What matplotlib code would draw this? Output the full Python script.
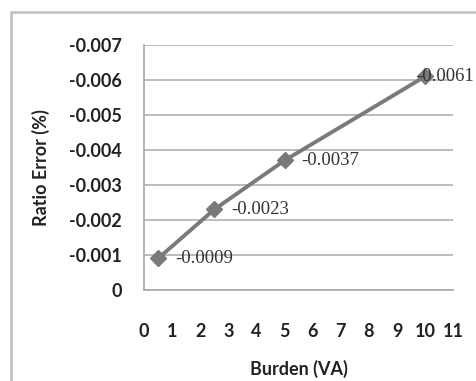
import matplotlib.pyplot as plt
from matplotlib.patches import Rectangle

# data
burden = [0.5, 2.5, 5, 10]
ratio_error = [-0.0009, -0.0023, -0.0037, -0.0061]
point_labels = ["-0.0009", "-0.0023", "-0.0037", "-0.0061"]
y_ticks = [0, -0.001, -0.002, -0.003, -0.004, -0.005, -0.006, -0.007]
y_tick_labels = ["0", "-0.001", "-0.002", "-0.003", "-0.004", "-0.005", "-0.006", "-0.007"]
x_ticks = list(range(0, 12))

fig = plt.figure(figsize=(4.77, 3.81), dpi=100)
ax = fig.add_axes([0.302, 0.239, 0.648, 0.643])

# outer chart border (cut by the image on right/bottom)
fig.patches.append(Rectangle((11 / 477, -0.05), 1.1, 1 - 12 / 381 + 0.05,
                             transform=fig.transFigure, fill=False,
                             edgecolor="#c0c0c0", linewidth=1.8))

ax.plot(burden, ratio_error, color="#7a7a7a", linewidth=2.8,
        marker="D", markersize=8, markerfacecolor="#7a7a7a", markeredgecolor="#7a7a7a")

for x, y, t in zip(burden, ratio_error, point_labels):
    dx = 0.6 if x < 10 else -0.3
    ax.text(x + dx, y, t, fontsize=13.5, family="Liberation Serif",
            color="#333333", va="center", ha="left")

ax.set_xlim(0, 11)
ax.set_ylim(0, -0.007)
ax.set_xticks(x_ticks)
ax.set_yticks(y_ticks)
ax.set_yticklabels(y_tick_labels)
ax.tick_params(axis="y", length=0, labelsize=13, colors="#222222", pad=16)
ax.tick_params(axis="x", length=0, labelsize=13, colors="#222222", pad=24)
for lab in ax.get_xticklabels() + ax.get_yticklabels():
    lab.set_family("Lato")
    lab.set_weight("bold")

ax.yaxis.grid(True, color="#b0b0b0", linewidth=1.2)
ax.set_axisbelow(True)
for s in ["top", "right"]:
    ax.spines[s].set_visible(False)
for s in ["left", "bottom"]:
    ax.spines[s].set_color("#a8a8a8")
    ax.spines[s].set_linewidth(1.2)

ax.set_xlabel("Burden (VA)", fontsize=13, family="Lato", weight="bold",
              color="#222222", labelpad=14)
ax.set_ylabel("Ratio Error (%)", fontsize=13, family="Lato", weight="bold",
              color="#222222", labelpad=14)

fig.savefig("out.png", dpi=100)
